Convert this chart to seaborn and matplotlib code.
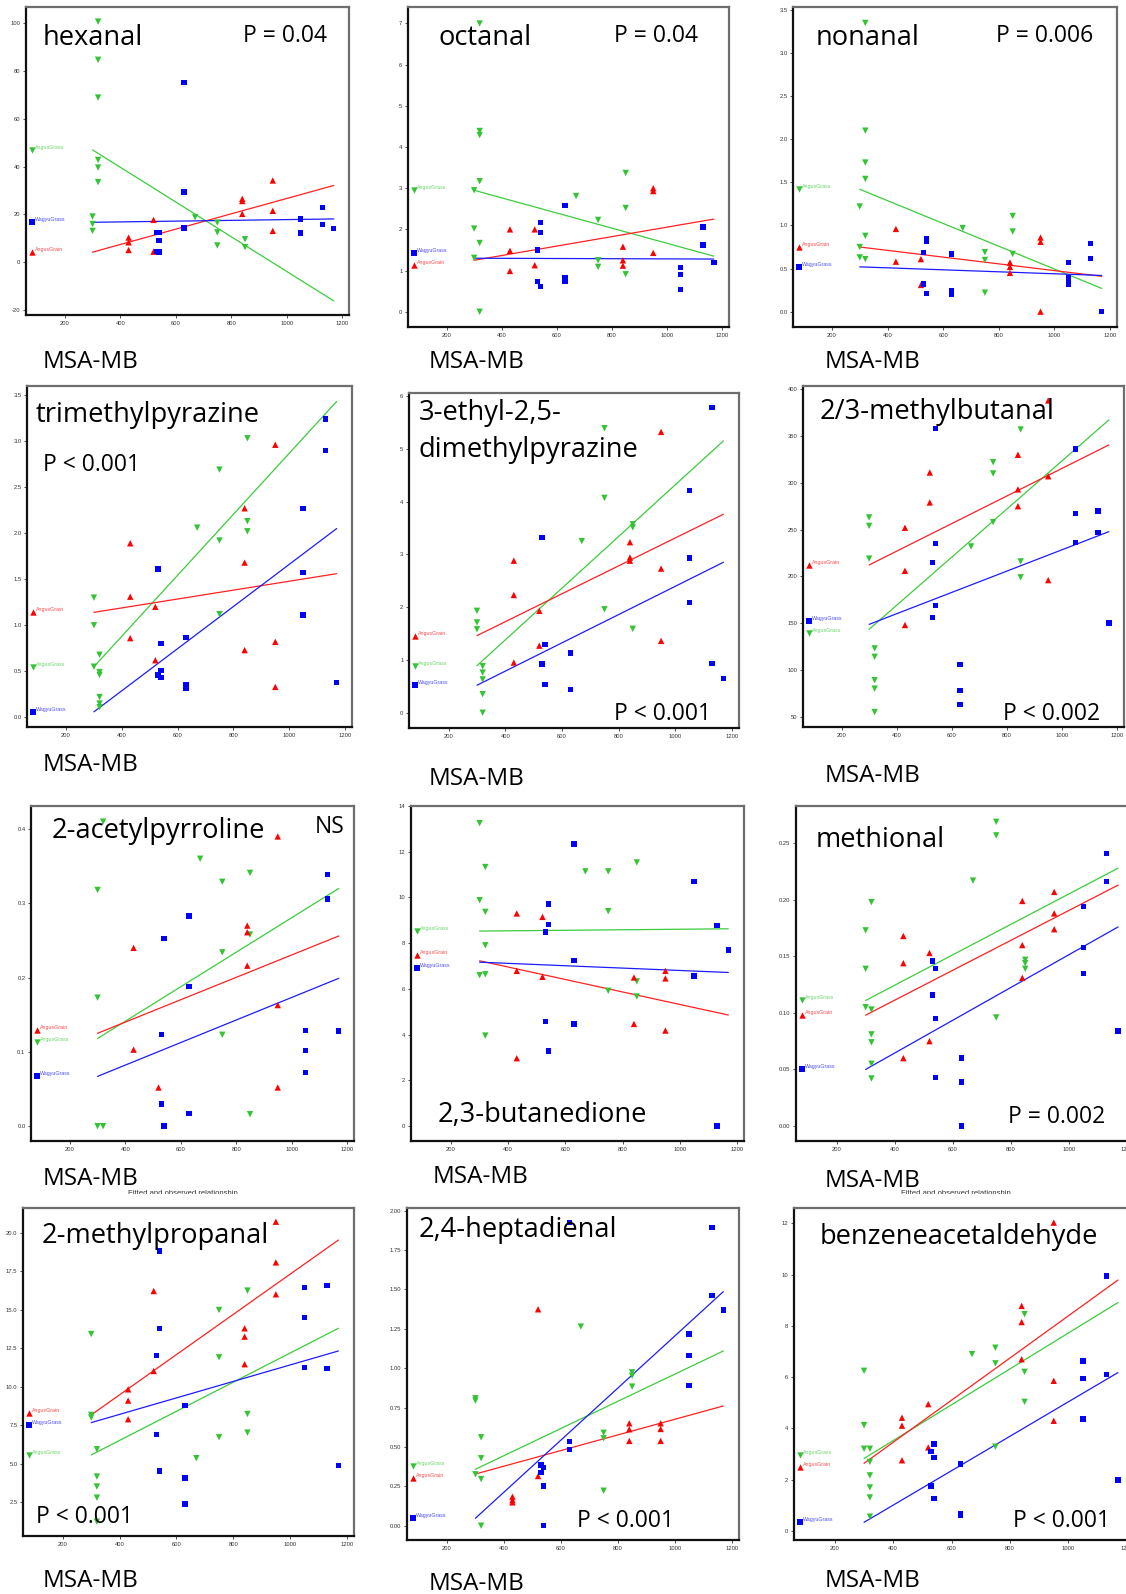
import numpy as np
import pandas as pd
import matplotlib
matplotlib.use("Agg")
import matplotlib.pyplot as plt
from matplotlib.patches import Rectangle
from matplotlib.ticker import FormatStrFormatter
import seaborn as sns

# Observations per animal: (MSA-MB score, compound level), one list per group
hexanal_grass = [(300, 19.1), (300, 16.0), (300, 13.1), (320, 100.7), (320, 84.7), (320, 68.9), (320, 42.8),
                 (320, 39.6), (320, 33.5), (670, 18.8), (750, 16.6), (750, 12.5), (750, 7.0), (850, 9.6), (850, 6.3)]
hexanal_grain = [(430, 10.3), (430, 8.3), (430, 5.1), (520, 17.7), (520, 4.4), (840, 26.5), (840, 25.6),
                 (840, 20.2), (950, 34.2), (950, 21.5), (950, 13.1)]
hexanal_wagyu = [(530, 12.4), (530, 4.4), (540, 12.4), (540, 9.0), (540, 4.2), (630, 75.3), (630, 29.3),
                 (630, 14.3), (1050, 18.0), (1050, 12.5), (1050, 12.1), (1130, 23.0), (1130, 15.9), (1170, 14.2)]

octanal_grass = [(300, 2.95), (300, 2.02), (300, 1.31), (320, 7.0), (320, 4.39), (320, 4.29), (320, 3.17),
                 (320, 1.67), (320, 0.0), (670, 2.81), (750, 2.23), (750, 1.25), (750, 1.09), (850, 3.37),
                 (850, 2.52), (850, 0.91)]
octanal_grain = [(430, 2.0), (430, 1.48), (430, 0.99), (520, 2.0), (520, 1.13), (840, 1.58), (840, 1.25),
                 (840, 1.12), (950, 3.0), (950, 2.93), (950, 1.43)]
octanal_wagyu = [(530, 1.50), (530, 0.73), (540, 2.16), (540, 1.92), (540, 0.61), (630, 2.58), (630, 0.83),
                 (630, 0.74), (1050, 1.07), (1050, 0.91), (1050, 0.54), (1130, 2.06), (1130, 1.62), (1170, 1.20)]

nonanal_grass = [(300, 1.22), (300, 0.75), (300, 0.63), (320, 3.35), (320, 2.10), (320, 1.73), (320, 1.54),
                 (320, 0.88), (320, 0.61), (670, 0.97), (750, 0.69), (750, 0.60), (750, 0.22), (850, 1.11),
                 (850, 0.93), (850, 0.67)]
nonanal_grain = [(430, 0.96), (430, 0.58), (520, 0.61), (520, 0.31), (840, 0.57), (840, 0.52), (840, 0.45),
                 (950, 0.86), (950, 0.81), (950, 0.0)]
nonanal_wagyu = [(530, 0.69), (530, 0.32), (540, 0.85), (540, 0.82), (540, 0.21), (630, 0.67), (630, 0.24),
                 (630, 0.20), (1050, 0.57), (1050, 0.39), (1050, 0.32), (1130, 0.79), (1130, 0.62), (1170, 0.0)]

tmp_grass = [(300, 1.30), (300, 1.00), (300, 0.55), (320, 0.68), (320, 0.49), (320, 0.46), (320, 0.22),
             (320, 0.15), (320, 0.11), (670, 2.06), (750, 2.69), (750, 1.92), (750, 1.12), (850, 3.03),
             (850, 2.13), (850, 2.02)]
tmp_grain = [(430, 1.89), (430, 1.31), (430, 0.86), (520, 1.20), (520, 0.62), (840, 2.27), (840, 1.68),
             (840, 0.73), (950, 2.96), (950, 0.82), (950, 0.33)]
tmp_wagyu = [(530, 1.61), (530, 0.46), (540, 0.80), (540, 0.51), (540, 0.43), (630, 0.87), (630, 0.35),
             (630, 0.32), (1050, 2.27), (1050, 1.57), (1050, 1.11), (1130, 3.24), (1130, 2.90), (1170, 0.38)]

edmp_grass = [(300, 1.93), (300, 1.71), (300, 1.58), (320, 0.88), (320, 0.76), (320, 0.63), (320, 0.35),
              (320, 0.0), (670, 3.25), (750, 5.39), (750, 4.07), (750, 1.96), (850, 3.57), (850, 3.51), (850, 1.59)]
edmp_grain = [(430, 2.88), (430, 2.23), (430, 0.95), (520, 1.93), (520, 1.27), (840, 3.23), (840, 2.94),
              (840, 2.88), (950, 5.32), (950, 2.73), (950, 1.36)]
edmp_wagyu = [(530, 3.32), (530, 0.92), (540, 1.29), (540, 0.54), (630, 1.13), (630, 0.44), (1050, 4.21),
              (1050, 2.93), (1050, 2.09), (1130, 5.78), (1130, 0.93), (1170, 0.65)]

mbutanal_grass = [(300, 263), (300, 254), (300, 219), (320, 123), (320, 114), (320, 89), (320, 80), (320, 55),
                  (670, 232), (750, 322), (750, 310), (750, 258), (850, 357), (850, 216), (850, 199)]
mbutanal_grain = [(430, 252), (430, 206), (430, 148), (520, 311), (520, 279), (840, 330), (840, 293),
                  (840, 275), (950, 388), (950, 307), (950, 196)]
mbutanal_wagyu = [(530, 215), (530, 156), (540, 358), (540, 235), (540, 169), (630, 106), (630, 78), (630, 63),
                  (1050, 336), (1050, 267), (1050, 236), (1130, 270), (1130, 247), (1170, 150)]

apyr_grass = [(300, 0.318), (300, 0.173), (300, 0.0), (320, 0.410), (320, 0.0), (670, 0.360), (750, 0.329),
              (750, 0.234), (750, 0.123), (850, 0.341), (850, 0.258), (850, 0.016)]
apyr_grain = [(430, 0.240), (430, 0.103), (520, 0.052), (840, 0.270), (840, 0.261), (840, 0.216),
              (950, 0.390), (950, 0.163), (950, 0.052)]
apyr_wagyu = [(530, 0.123), (530, 0.030), (540, 0.253), (540, 0.0), (630, 0.283), (630, 0.188), (630, 0.017),
              (1050, 0.129), (1050, 0.102), (1050, 0.072), (1130, 0.339), (1130, 0.306), (1170, 0.128)]

butd_grass = [(300, 13.25), (300, 9.88), (300, 6.60), (320, 11.33), (320, 9.37), (320, 7.91), (320, 6.64),
              (320, 3.96), (670, 11.14), (750, 11.14), (750, 9.40), (750, 5.92), (850, 11.53), (850, 6.33),
              (850, 5.67)]
butd_grain = [(430, 9.30), (430, 6.79), (430, 2.97), (520, 9.15), (520, 6.53), (840, 6.50), (840, 4.47),
              (950, 6.79), (950, 6.46), (950, 4.18)]
butd_wagyu = [(530, 8.49), (530, 4.58), (540, 9.72), (540, 8.82), (540, 3.28), (630, 12.33), (630, 7.25),
              (630, 4.47), (1050, 10.71), (1050, 6.57), (1130, 8.78), (1130, 0.0), (1170, 7.70)]

methional_grass = [(300, 0.173), (300, 0.139), (300, 0.105), (320, 0.198), (320, 0.103), (320, 0.081),
                   (320, 0.074), (320, 0.055), (320, 0.042), (670, 0.217), (750, 0.269), (750, 0.257),
                   (750, 0.096), (850, 0.147), (850, 0.144), (850, 0.139)]
methional_grain = [(430, 0.168), (430, 0.144), (430, 0.060), (520, 0.153), (520, 0.075), (840, 0.199),
                   (840, 0.160), (840, 0.131), (950, 0.207), (950, 0.188), (950, 0.174)]
methional_wagyu = [(530, 0.146), (530, 0.116), (540, 0.139), (540, 0.095), (540, 0.043), (630, 0.060),
                   (630, 0.039), (630, 0.0), (1050, 0.194), (1050, 0.158), (1050, 0.135), (1130, 0.241),
                   (1130, 0.216), (1170, 0.084)]

mpropanal_grass = [(300, 13.42), (300, 8.17), (300, 8.0), (320, 5.94), (320, 4.17), (320, 3.52), (320, 2.80),
                   (320, 1.24), (670, 5.36), (750, 14.98), (750, 11.91), (750, 6.72), (850, 16.24), (850, 8.23),
                   (850, 7.02)]
mpropanal_grain = [(430, 9.83), (430, 9.10), (430, 7.89), (520, 16.21), (520, 11.02), (840, 13.79),
                   (840, 13.25), (840, 11.46), (950, 20.71), (950, 18.07), (950, 16.0)]
mpropanal_wagyu = [(530, 12.02), (530, 6.91), (540, 18.81), (540, 13.79), (540, 4.53), (630, 8.79), (630, 4.08),
                   (630, 2.39), (1050, 16.45), (1050, 14.51), (1050, 11.26), (1130, 16.56), (1130, 11.20),
                   (1170, 4.88)]

hepta_grass = [(300, 0.809), (300, 0.794), (300, 0.326), (320, 0.561), (320, 0.428), (320, 0.296), (320, 0.0),
               (670, 1.264), (750, 0.590), (750, 0.555), (750, 0.222), (850, 0.974), (850, 0.952), (850, 0.883)]
hepta_grain = [(430, 0.184), (430, 0.163), (430, 0.148), (520, 1.374), (520, 0.315), (840, 0.650),
               (840, 0.612), (840, 0.538), (950, 0.650), (950, 0.614), (950, 0.538)]
hepta_wagyu = [(530, 0.385), (530, 0.336), (540, 0.370), (540, 0.252), (540, 0.0), (630, 1.924), (630, 0.533),
               (630, 0.485), (1050, 1.217), (1050, 1.079), (1050, 0.889), (1130, 1.894), (1130, 1.462),
               (1170, 1.369)]

benz_grass = [(300, 6.25), (300, 4.13), (300, 3.21), (320, 3.21), (320, 2.70), (320, 2.17), (320, 1.70),
              (320, 1.31), (320, 0.56), (670, 6.90), (750, 7.15), (750, 6.54), (750, 3.29), (850, 8.46),
              (850, 6.21), (850, 5.04)]
benz_grain = [(430, 4.42), (430, 4.11), (430, 2.76), (520, 4.95), (520, 3.26), (840, 8.78), (840, 8.15),
              (840, 6.70), (950, 12.03), (950, 5.86), (950, 4.30)]
benz_wagyu = [(530, 3.09), (530, 1.76), (540, 3.39), (540, 2.86), (540, 1.27), (630, 2.61), (630, 0.66),
              (630, 0.60), (1050, 6.63), (1050, 5.95), (1050, 4.37), (1130, 9.95), (1130, 6.11), (1170, 1.99)]

# Fitted group lines, value at MSA-MB = 300 and at MSA-MB = 1170
# order: AngusGrass, AngusGrain, WagyuGrass
hexanal_fit = [(47.0, -16.2), (4.2, 32.1), (16.7, 18.1)]
octanal_fit = [(2.95, 1.35), (1.25, 2.25), (1.30, 1.28)]
nonanal_fit = [(1.42, 0.27), (0.75, 0.41), (0.52, 0.42)]
tmp_fit = [(0.55, 3.43), (1.14, 1.56), (0.06, 2.05)]
edmp_fit = [(0.89, 5.15), (1.46, 3.76), (0.52, 2.85)]
mbutanal_fit = [(143.4, 367.2), (212.2, 340.5), (148.7, 247.8)]
apyr_fit = [(0.118, 0.320), (0.125, 0.256), (0.067, 0.199)]
butd_fit = [(8.53, 8.63), (7.23, 4.86), (7.17, 6.72)]
methional_fit = [(0.111, 0.228), (0.098, 0.213), (0.050, 0.176)]
mpropanal_fit = [(5.57, 13.79), (8.17, 19.52), (7.67, 12.32)]
hepta_fit = [(0.358, 1.109), (0.328, 0.760), (0.047, 1.486)]
benz_fit = [(2.83, 8.91), (2.64, 9.79), (0.34, 6.18)]

compound_names = [["hexanal"], ["octanal"], ["nonanal"],
                  ["trimethylpyrazine"], ["3-ethyl-2,5-", "dimethylpyrazine"], ["2/3-methylbutanal"],
                  ["2-acetylpyrroline"], ["2,3-butanedione"], ["methional"],
                  ["2-methylpropanal"], ["2,4-heptadienal"], ["benzeneacetaldehyde"]]
p_values = ["P = 0.04", "P = 0.04", "P = 0.006",
            "P < 0.001", "P < 0.001", "P < 0.002",
            "NS", None, "P = 0.002",
            "P < 0.001", "P < 0.001", "P < 0.001"]

GROUPS = ["AngusGrass", "AngusGrain", "WagyuGrass"]
FIT_X = [300, 1170]
X_TICKS = [200, 400, 600, 800, 1000, 1200]
X_LABEL = "MSA-MB"

# ---------------------------------------------------------------- drawing
W, H = 1126, 1594
sns.set_theme(style="white")
plt.rcParams["font.family"] = ["Liberation Sans", "DejaVu Sans"]
BIG = ["Open Sans", "DejaVu Sans"]

marker_col = {"AngusGrass": "#33c433", "AngusGrain": "#ff0000", "WagyuGrass": "#0000ff"}
line_col = {"AngusGrass": "#3ccc3c", "AngusGrain": "#ff2020", "WagyuGrass": "#1c1cff"}
label_col = {"AngusGrass": "#66d866", "AngusGrain": "#ff4a4a", "WagyuGrass": "#4a4aff"}
marker_sym = {"AngusGrass": "v", "AngusGrain": "^", "WagyuGrass": "s"}
marker_size = {"AngusGrass": 21, "AngusGrain": 21, "WagyuGrass": 15}

panels = [
    dict(pts=(hexanal_grass, hexanal_grain, hexanal_wagyu), fit=hexanal_fit,
         box=(26, 7, 349, 315), ylim=(-22.1, 106.8), yticks=np.arange(-20, 101, 20), yfmt="%d",
         title=[(43, 45)], pxy=(243, 42), lab=(43, 368)),
    dict(pts=(octanal_grass, octanal_grain, octanal_wagyu), fit=octanal_fit,
         box=(408, 7, 729, 327), ylim=(-0.37, 7.40), yticks=np.arange(0, 8, 1), yfmt="%d",
         title=[(438, 45)], pxy=(614, 42), lab=(429, 368)),
    dict(pts=(nonanal_grass, nonanal_grain, nonanal_wagyu), fit=nonanal_fit,
         box=(793, 7, 1117, 327), ylim=(-0.178, 3.535), yticks=np.arange(0, 3.51, 0.5), yfmt="%.1f",
         title=[(816, 45)], pxy=(996, 42), lab=(825, 368)),
    dict(pts=(tmp_grass, tmp_grain, tmp_wagyu), fit=tmp_fit,
         box=(27, 386, 352, 727), ylim=(-0.105, 3.598), yticks=np.arange(0, 3.51, 0.5), yfmt="%.1f",
         title=[(36, 422)], pxy=(43, 471), lab=(43, 771)),
    dict(pts=(edmp_grass, edmp_grain, edmp_wagyu), fit=edmp_fit,
         box=(409, 393, 739, 728), ylim=(-0.29, 6.057), yticks=np.arange(0, 7, 1), yfmt="%d",
         title=[(419, 420), (419, 457)], pxy=(614, 720), lab=(429, 785)),
    dict(pts=(mbutanal_grass, mbutanal_grain, mbutanal_wagyu), fit=mbutanal_fit,
         box=(803, 386, 1124, 727), ylim=(39, 403.5), yticks=np.arange(50, 401, 50), yfmt="%d",
         title=[(820, 419)], pxy=(1003, 720), lab=(825, 782)),
    dict(pts=(apyr_grass, apyr_grain, apyr_wagyu), fit=apyr_fit,
         box=(31, 806, 354, 1141), ylim=(-0.020, 0.431), yticks=np.arange(0, 0.41, 0.1), yfmt="%.1f",
         title=[(52, 838)], pxy=(315, 833), lab=(43, 1185)),
    dict(pts=(butd_grass, butd_grain, butd_wagyu), fit=butd_fit,
         box=(411, 806, 744, 1141), ylim=(-0.65, 14.0), yticks=np.arange(0, 15, 2), yfmt="%d",
         title=[(438, 1122)], pxy=None, lab=(433, 1183)),
    dict(pts=(methional_grass, methional_grain, methional_wagyu), fit=methional_fit,
         box=(796, 806, 1134, 1141), ylim=(-0.0133, 0.283), yticks=np.arange(0, 0.251, 0.05), yfmt="%.2f",
         title=[(816, 847)], pxy=(1008, 1123), lab=(825, 1187)),
    dict(pts=(mpropanal_grass, mpropanal_grain, mpropanal_wagyu), fit=mpropanal_fit,
         box=(23, 1208, 354, 1536), ylim=(0.31, 21.6), yticks=np.arange(2.5, 20.1, 2.5), yfmt="%.1f",
         title=[(42, 1243)], pxy=(36, 1523), lab=(43, 1587)),
    dict(pts=(hepta_grass, hepta_grain, hepta_wagyu), fit=hepta_fit,
         box=(407, 1208, 739, 1540), ylim=(-0.091, 2.017), yticks=np.arange(0, 2.01, 0.25), yfmt="%.2f",
         title=[(419, 1237)], pxy=(577, 1527), lab=(429, 1590)),
    dict(pts=(benz_grass, benz_grain, benz_wagyu), fit=benz_fit,
         box=(794, 1208, 1134, 1540), ylim=(-0.35, 12.6), yticks=np.arange(0, 13, 2), yfmt="%d",
         title=[(820, 1244)], pxy=(1013, 1527), lab=(825, 1587)),
]


def to_frame(groups_pts):
    rows = [(x, y, g) for g, pts in zip(GROUPS, groups_pts) for x, y in pts]
    return pd.DataFrame(rows, columns=["MSA-MB", "level", "group"])


def spread_labels(values, span, frac=0.036):
    """Keep the in-plot group labels from sitting on top of each other."""
    vals = list(values)
    order = list(np.argsort(vals, kind="stable"))
    gap = frac * span
    for _ in range(30):
        for lo, hi in zip(order[:-1], order[1:]):
            d = vals[hi] - vals[lo]
            if d < gap:
                push = (gap - d) / 2
                vals[hi] += push
                vals[lo] -= push
    return vals


def fx(x):
    return x / W


def fy(y):
    return 1 - y / H


fig = plt.figure(figsize=(W / 100, H / 100), dpi=100)
fig.patch.set_facecolor("white")

for i, spec in enumerate(panels):
    L, T, R, B = spec["box"]
    ax = fig.add_axes([fx(L), fy(B), (R - L) / W, (B - T) / H])
    ax.set_facecolor("white")

    df = to_frame(spec["pts"])
    sns.scatterplot(data=df, x="MSA-MB", y="level", hue="group", style="group", size="group",
                    hue_order=GROUPS, style_order=GROUPS, size_order=GROUPS,
                    palette=marker_col, markers=marker_sym, sizes=marker_size,
                    linewidth=0, legend=False, ax=ax, zorder=3)

    starts = []
    for g, (a, b) in zip(GROUPS, spec["fit"]):
        sns.lineplot(x=FIT_X, y=[a, b], color=line_col[g], linewidth=0.9, ax=ax, zorder=2)
        starts.append(a)

    span = spec["ylim"][1] - spec["ylim"][0]
    for g, ly in zip(GROUPS, spread_labels(starts, span)):
        ax.scatter([80], [ly], marker=marker_sym[g], s=marker_size[g], color=marker_col[g],
                   linewidths=0, zorder=3, clip_on=False)
        ax.annotate(g, xy=(80, ly), xytext=(2.5, 1.8), textcoords="offset points",
                    fontsize=3.8, color=label_col[g], va="center", ha="left")

    ax.set_xlim(60, 1225)
    ax.set_ylim(*spec["ylim"])
    ax.set_xticks(X_TICKS)
    ax.set_yticks(spec["yticks"])
    ax.yaxis.set_major_formatter(FormatStrFormatter(spec["yfmt"]))
    ax.xaxis.set_major_formatter(FormatStrFormatter("%d"))
    ax.set_xlabel("")
    ax.set_ylabel("")
    ax.tick_params(axis="both", which="major", bottom=True, left=True, direction="out",
                   length=2.5, width=0.6, color="#333333", labelsize=4.2, labelcolor="#333333", pad=1.5)
    for side in ("left", "bottom"):
        ax.spines[side].set_color("#111111")
        ax.spines[side].set_linewidth(1.6)
    for side in ("top", "right"):
        ax.spines[side].set_color("#6e6e6e")
        ax.spines[side].set_linewidth(1.6)

    for line, (tx, ty) in zip(compound_names[i], spec["title"]):
        fig.text(fx(tx), fy(ty), line, family=BIG, fontsize=19.6, color="black",
                 ha="left", va="baseline")
    if p_values[i] is not None:
        px, py = spec["pxy"]
        fig.text(fx(px), fy(py), p_values[i], family=BIG, fontsize=16.5, color="black",
                 ha="left", va="baseline")
    lx, ly = spec["lab"]
    fig.text(fx(lx), fy(ly), X_LABEL, family=BIG, fontsize=17.5, color="black",
             ha="left", va="baseline")

# remnants of the plotting program's chart caption, mostly hidden under the panels
for cx in (128, 901):
    fig.text(fx(cx), fy(1190), "Fitted and observed relationship", fontsize=5.5,
             color="#333333", ha="left", va="top")
    fig.add_artist(Rectangle((fx(cx - 4), fy(1205)), 130 / W, 11.5 / H, transform=fig.transFigure,
                             facecolor="white", edgecolor="none", zorder=5))

fig.savefig("out.png", dpi=100, facecolor="white")
